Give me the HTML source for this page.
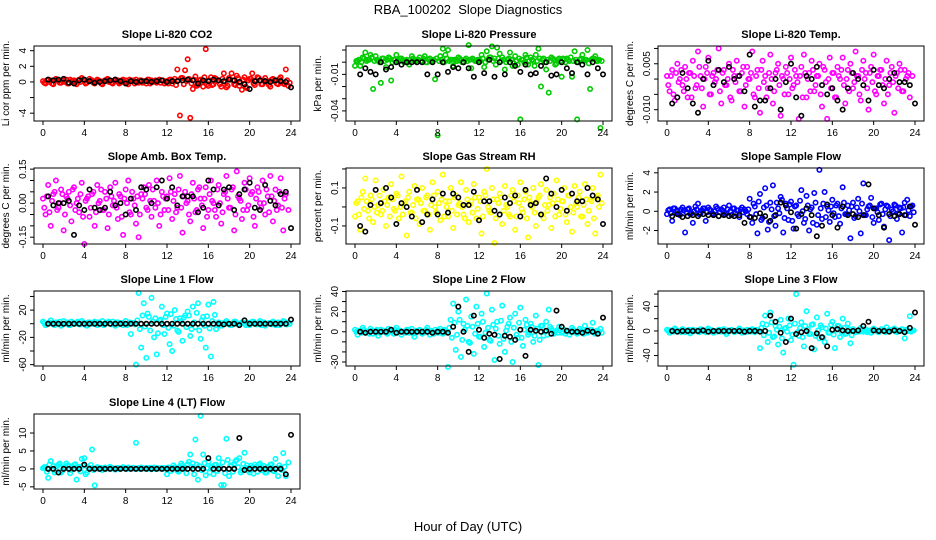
<!DOCTYPE html>
<html><head><meta charset="utf-8"><style>
html,body{margin:0;padding:0;background:#fff;}
svg{display:block;font-family:"Liberation Sans",sans-serif;}
</style></head><body>
<svg id="chart" width="936" height="540" viewBox="0 0 936 540">
<text x="468" y="14" text-anchor="middle" font-size="13" xml:space="preserve">RBA_100202&#160; Slope Diagnostics</text>
<text x="468" y="531" text-anchor="middle" font-size="13">Hour of Day (UTC)</text>
</svg>
<script>
// ---- data (colored points every 0.25 h, second colored set offset 0.125 h, black every 0.5 h) ----
const xTicks = [0,4,8,12,16,20,24];
const co2Colored = [0.1,-0.2,0.3,0.2,-0.3,0.4,0.1,-0.1,0.2,0.3,-0.2,0.1,0.2,-0.3,0.3,0.5,0.2,-0.1,0.4,0.2,-0.2,0.3,0.1,-0.3,0.2,0.4,0.1,-0.2,0.3,0.2,-0.1,0.3,0.2,-0.3,0.1,0.2,0.3,-0.1,0.2,0.1,-0.2,0.3,0.2,0.1,-0.1,0.3,0.2,-0.2,
0.1,0.3,-0.2,0.4,1.6,-4.3,0.5,1.5,2.9,-4.6,-0.9,0.7,-0.4,0.3,-0.6,4.2,-0.5,0.6,-0.3,0.4,0.2,-0.6,1.1,-0.7,0.5,1.1,-0.3,0.8,-0.5,-1.0,0.6,-0.8,0.4,1.1,-0.4,0.6,0.2,-0.3,0.5,0.1,-0.6,0.4,0.2,-0.3,0.6,-0.2,1.6,-0.5];
const co2Colored2 = [-0.1,0.2,0.0,-0.2,0.1,0.3,-0.1,0.2,0.0,-0.2,0.3,0.1,-0.1,0.2,0.0,0.3,-0.2,0.1,0.2,-0.1,0.0,0.2,-0.2,0.1,0.3,0.0,-0.1,0.2,0.1,-0.2,0.2,0.0,-0.1,0.3,0.1,-0.2,0.0,0.2,-0.1,0.1,0.3,-0.2,0.0,0.2,0.1,-0.1,0.2,0.0,
-0.2,0.3,0.1,-0.4,0.2,0.5,-0.3,0.1,0.4,-0.2,0.3,-0.5,0.2,0.0,0.6,-0.3,0.2,-0.4,0.5,0.1,-0.3,0.4,0.0,-0.5,0.3,0.2,-0.4,0.5,-0.1,0.3,-0.6,0.2,0.4,-0.2,0.1,0.5,-0.3,0.2,0.0,-0.4,0.3,0.1,-0.2,0.4,0.0,-0.3,0.2,-0.1];
const co2Black = [0.3,0.2,0.3,0.4,-0.1,-0.2,0.2,0.3,0.1,-0.1,0.0,0.1,0.2,0.3,0.1,-0.2,0.1,0.0,0.1,0.1,0.0,0.1,0.2,0.0,0.1,0.1,0.2,0.3,0.2,-0.2,0.2,0.1,0.3,0.2,0.1,0.3,0.2,0.0,-0.3,-0.9,0.1,0.2,0.1,0.0,0.2,0.1,0.0,-0.7];
const presColored = [-0.003,0.001,-0.003,0.004,0.008,0.002,0.006,-0.022,0.005,0.001,-0.017,0.003,-0.004,0.004,-0.015,0.002,0.006,0.001,0.003,0.0,0.002,-0.002,0.005,0.001,0.002,0.004,0.001,0.005,0.0,0.003,0.001,-0.014,-0.060,0.005,0.011,0.006,0.010,0.002,-0.003,0.001,0.004,0.002,0.000,0.003,0.014,-0.005,0.002,0.001,
0.002,0.006,-0.004,0.009,0.004,0.013,0.003,0.012,0.007,0.004,-0.006,0.002,0.008,-0.003,0.005,-0.002,-0.047,0.002,0.006,-0.002,0.004,0.001,0.006,0.011,-0.020,0.003,-0.006,-0.025,0.004,0.002,-0.001,0.003,-0.012,0.002,0.003,0.001,-0.012,0.009,-0.047,0.002,0.006,0.002,0.010,-0.022,0.003,0.005,0.001,-0.054];
const presColored2 = [0.001,0.002,0.000,0.003,0.001,0.002,0.004,0.001,0.002,0.000,0.003,0.001,0.002,0.003,0.000,0.002,0.001,0.003,0.002,0.001,0.000,0.002,0.003,0.001,0.002,0.001,0.003,0.000,0.002,0.001,0.002,0.003,0.001,0.002,0.000,0.003,0.001,0.002,0.002,0.001,0.003,0.000,0.002,0.001,0.002,0.003,0.001,0.002,
0.001,0.003,0.000,0.002,0.004,0.001,-0.002,0.003,0.001,0.002,0.000,0.003,0.002,-0.001,0.001,0.003,0.002,0.000,0.004,0.001,0.002,-0.003,0.001,0.003,0.002,0.000,0.002,0.001,0.003,-0.002,0.002,0.001,0.003,0.000,0.002,0.004,0.001,0.002,0.000,0.003,0.001,0.002,-0.001,0.002,0.003,0.001,0.002,0.001];
const presBlack = [-0.010,-0.005,-0.008,-0.010,0.0,-0.006,-0.004,0.0,-0.002,0.0,0.0,0.0,0.0,-0.010,0.0,-0.010,0.0,-0.008,-0.004,-0.005,0.0,-0.005,-0.012,0.0,-0.009,0.002,-0.012,0.0,-0.010,0.0,-0.003,-0.008,-0.002,-0.010,-0.009,-0.003,0.0,-0.011,-0.010,0.0,-0.005,-0.009,0.0,-0.002,-0.010,0.0,-0.005,-0.010];
const tempColored = [0.001,-0.004,0.003,-0.007,0.005,0.0,-0.002,0.004,-0.006,0.002,0.006,-0.003,0.009,0.001,-0.009,0.004,0.007,-0.005,0.002,0.0,0.010,-0.008,0.003,-0.002,0.005,-0.007,0.001,0.006,-0.004,0.002,-0.009,0.004,0.0,0.009,-0.006,0.003,-0.011,0.006,0.001,-0.003,0.008,-0.008,0.002,0.005,-0.012,0.0,0.004,-0.005,
0.007,-0.002,0.001,-0.013,0.004,0.008,-0.006,0.002,0.006,-0.004,0.001,0.005,-0.009,0.003,-0.013,0.007,0.002,-0.006,0.004,0.0,0.007,-0.008,0.003,0.005,-0.003,0.009,0.001,-0.007,0.006,0.002,-0.010,0.004,0.008,-0.005,0.001,0.003,-0.008,0.006,-0.002,0.004,-0.011,0.002,0.005,-0.004,0.003,0.001,-0.006,0.001];
const tempColored2 = [-0.002,0.001,-0.005,0.002,-0.001,0.003,-0.004,0.000,0.002,-0.006,0.001,-0.002,0.004,-0.003,0.000,0.002,-0.005,0.001,-0.001,0.003,-0.004,0.002,-0.002,0.000,-0.006,0.003,-0.001,0.001,-0.004,0.004,-0.002,0.000,0.002,-0.005,0.001,-0.003,0.003,-0.001,-0.006,0.002,0.000,-0.004,0.003,-0.002,0.001,-0.005,0.002,0.000,
-0.003,0.003,-0.001,0.001,-0.006,0.002,0.000,-0.004,0.003,-0.002,0.001,-0.005,0.004,-0.001,0.000,-0.003,0.002,-0.006,0.001,0.003,-0.002,0.000,-0.004,0.002,-0.001,0.001,-0.005,0.003,0.000,-0.003,0.002,-0.001,-0.004,0.001,0.003,-0.002,0.000,-0.005,0.002,-0.001,0.001,-0.003,0.003,-0.004,0.000,0.002];
const tempBlack = [-0.008,-0.006,0.002,-0.003,-0.008,-0.011,0.0,0.006,-0.002,0.003,-0.001,0.004,0.000,0.001,-0.004,0.008,-0.009,-0.007,-0.007,-0.003,0.0,-0.010,-0.001,0.005,-0.006,-0.012,0.001,0.0,0.004,-0.002,-0.005,-0.003,-0.007,-0.010,-0.003,0.002,0.0,-0.002,-0.007,0.003,-0.002,-0.003,0.0,0.002,-0.001,-0.001,-0.002,-0.008];
const ambColored = [0.02,-0.05,0.08,-0.10,0.04,0.10,-0.02,0.06,-0.12,0.03,0.05,-0.08,0.07,0.0,-0.04,0.09,-0.18,0.02,-0.06,0.04,-0.10,0.08,0.01,-0.03,0.05,-0.11,0.07,-0.01,0.09,-0.07,0.03,-0.14,0.06,0.10,-0.05,0.02,-0.09,-0.15,0.04,0.07,-0.02,0.08,-0.06,0.01,0.10,-0.10,0.05,-0.03,
0.03,0.11,-0.07,0.04,-0.02,0.12,-0.13,0.05,0.01,-0.08,0.09,-0.04,0.06,0.02,-0.11,0.07,-0.03,0.10,0.0,-0.06,0.08,-0.09,0.04,0.12,-0.02,0.06,-0.12,0.14,0.02,-0.07,0.09,-0.03,0.11,0.05,-0.10,0.07,0.0,0.10,-0.05,0.03,0.12,-0.08,0.06,-0.01,0.11,-0.12,0.04,-0.03];
const ambColored2 = [-0.02,0.03,-0.04,0.01,0.05,-0.03,0.00,0.04,-0.05,0.02,-0.01,0.06,-0.03,0.02,0.04,-0.06,0.01,0.03,-0.02,0.05,-0.04,0.00,0.06,-0.03,0.02,-0.05,0.03,0.01,-0.02,0.04,-0.06,0.02,0.00,-0.04,0.05,-0.01,0.03,-0.05,0.02,0.04,-0.03,0.01,0.06,-0.02,0.00,-0.05,0.03,0.02,
-0.03,0.05,0.01,-0.04,0.06,-0.02,0.03,0.00,-0.05,0.04,0.02,-0.03,0.07,-0.01,0.02,-0.06,0.04,0.01,-0.03,0.06,0.00,-0.04,0.05,0.02,-0.02,0.07,-0.05,0.03,0.01,-0.03,0.06,-0.01,0.04,-0.06,0.02,0.05,-0.02,0.00,0.06,-0.04,0.03,0.01,-0.03,0.05,-0.02,0.02];
const ambBlack = [0.03,-0.01,0.0,0.0,0.01,-0.14,-0.01,-0.03,0.06,-0.02,-0.03,-0.02,0.05,-0.01,0.0,-0.05,0.02,-0.03,0.07,0.06,0.0,0.07,0.10,0.02,0.07,-0.01,0.03,0.03,0.03,-0.04,-0.02,0.10,0.06,-0.01,0.06,0.07,-0.03,0.04,0.06,0.09,-0.02,-0.03,0.08,0.01,-0.01,0.04,0.05,-0.11];
const rhColored = [-0.05,0.03,-0.12,0.08,0.15,-0.02,0.06,-0.08,0.14,0.01,-0.04,0.09,-0.10,0.05,0.12,-0.01,0.07,-0.06,0.16,0.02,-0.15,0.08,-0.03,0.11,0.04,-0.09,0.10,-0.02,0.06,-0.12,0.13,0.0,0.08,-0.07,0.17,0.03,-0.05,0.10,-0.11,0.06,0.01,0.13,-0.04,0.09,-0.08,0.03,0.12,-0.06,
0.05,-0.14,0.08,0.20,-0.02,0.10,-0.19,0.04,0.07,-0.09,0.11,0.0,-0.05,0.09,-0.12,0.06,0.13,-0.03,0.08,-0.16,0.02,0.10,-0.10,0.05,0.12,-0.06,0.09,0.01,-0.11,0.07,0.14,-0.04,0.03,0.10,-0.08,0.06,-0.13,0.11,0.0,0.08,-0.05,0.12,-0.09,0.04,0.10,-0.14,0.06,0.17];
const rhColored2 = [0.02,-0.04,0.05,-0.01,0.03,-0.06,0.04,0.00,-0.03,0.06,-0.02,0.03,0.01,-0.05,0.04,-0.02,0.06,0.00,-0.04,0.03,0.05,-0.03,0.01,-0.06,0.04,0.02,-0.02,0.05,-0.04,0.01,0.06,-0.03,0.02,0.04,-0.05,0.00,0.03,-0.02,0.05,-0.04,0.02,0.00,-0.06,0.04,0.01,-0.03,0.05,-0.01,
0.03,-0.05,0.06,0.00,-0.03,0.04,-0.06,0.02,0.05,-0.02,0.01,-0.04,0.06,0.03,-0.05,0.02,-0.01,0.04,-0.06,0.05,0.00,-0.03,0.03,0.06,-0.04,0.01,-0.02,0.05,0.02,-0.05,0.04,-0.01,0.03,-0.04,0.06,0.00,-0.03,0.02,0.05,-0.05,0.01,0.04,-0.02,0.03,-0.06,0.05,0.00,0.02];
const rhBlack = [-0.10,-0.13,0.01,0.09,0.02,0.10,0.05,-0.09,0.02,0.0,-0.05,0.09,-0.08,-0.04,0.04,-0.04,0.07,-0.03,0.07,0.05,0.01,0.01,0.08,-0.07,0.03,0.03,-0.02,-0.04,0.05,0.02,0.06,-0.05,0.09,0.01,0.02,-0.04,0.15,0.07,0.0,0.09,-0.02,0.07,0.03,0.03,0.10,0.06,0.04,-0.09];
const flowColored = [-0.3,0.2,-1.0,0.3,0.1,-0.4,0.4,-2.2,0.2,-0.3,-1.2,0.5,0.8,-0.2,0.3,-1.0,0.4,0.1,-0.3,0.5,-0.5,0.2,0.4,-0.2,0.6,-0.4,0.3,0.1,-0.6,0.4,0.2,-0.3,
1.3,-1.2,0.5,-2.3,1.8,-0.7,2.4,-1.9,0.9,2.7,-1.5,0.3,1.5,-2.2,0.8,-0.9,1.0,-1.8,0.6,-0.5,2.2,-1.2,1.6,-2.0,0.4,1.9,-1.4,4.3,-0.8,2.0,0.5,-1.1,
1.2,-0.6,0.8,-1.3,2.5,-0.3,0.6,-2.8,0.9,-0.5,1.3,-2.3,2.9,-0.4,0.5,1.4,-1.2,0.3,-0.9,0.8,-1.6,0.6,-3.0,0.2,0.7,-0.8,0.4,-2.2,0.9,1.2,-0.5,0.6];
const flowColored2 = [0.1,-0.2,0.3,0.0,-0.3,0.2,0.1,-0.1,0.3,-0.2,0.0,0.2,-0.3,0.1,0.3,-0.1,0.2,-0.2,0.0,0.3,-0.1,0.1,-0.3,0.2,0.0,0.3,-0.2,0.1,0.2,-0.1,0.0,0.2,
-0.6,0.8,-0.3,1.0,-0.9,0.4,0.6,-1.1,0.2,-0.5,0.9,-0.2,1.2,-0.7,0.3,0.7,-1.0,0.5,-0.3,1.1,0.0,-0.8,0.6,0.2,-1.2,0.9,-0.4,0.3,0.8,-0.6,0.1,0.5,
-0.2,0.6,-0.5,0.3,0.9,-0.3,0.1,0.5,-0.7,0.4,0.0,0.8,-0.4,0.2,0.6,-0.6,0.3,-0.1,0.7,-0.3,0.2,0.5,-0.5,0.0,0.6,-0.2,0.3,0.4,-0.4,0.1,0.5,-0.1];
const flowBlack = [-0.5,-0.3,-0.6,-0.5,-0.4,-0.5,-0.3,-0.4,-0.4,-0.5,-0.4,-0.5,-0.5,-0.4,-1.2,-0.6,-0.7,-0.2,-0.5,-1.0,-0.4,0.9,0.6,-0.1,-1.8,-0.3,0.3,-0.4,-2.6,-1.5,0.7,-0.4,-1.7,0.5,-0.4,-0.3,-0.6,-0.4,2.8,0.3,-0.4,-1.7,-0.3,-0.5,-0.3,-0.4,0.5,-1.4];
const line1Colored = [3,-2,1,5,-1,2,0,-3,4,1,-2,3,0,2,-1,4,1,-3,2,0,3,-2,1,4,-1,2,0,3,-3,2,1,-2,4,0,-15,1,
-60,45,-35,30,-50,10,38,-20,-45,5,25,-15,15,-30,-40,20,-10,8,-25,12,18,-18,25,-5,30,-22,10,-35,28,-48,32,-8,
2,-3,1,4,0,-2,3,1,-1,2,5,0,-2,3,1,-1,4,2,-3,0,1,3,-2,2,0,4,-1,2];
const line1Colored2 = [1,-1,2,0,-2,1,3,-1,0,2,-2,1,0,3,-1,1,-2,2,0,1,-1,2,0,-2,1,3,-1,0,2,-1,1,0,-2,2,1,-1,
5,-8,12,-4,15,-10,3,8,-14,6,-2,10,-6,14,-3,7,-12,4,9,-5,12,-8,2,16,-10,5,-3,11,-7,4,13,-2,
1,-1,2,0,-2,1,3,-1,0,2,-2,1,0,3,-1,1,-2,2,0,1,-1,2,0,-2,1,3,-1,0];
const line1Black = [0,0,0,0,0,0,0,0,0,0,0,0,0,0,0,0,0,0,0,0,0,0,0,0,0,0,0,0,0,0,0,0,0,0,-1,0,0,-2,5,0,0,0,0,0,0,0,0,6];
const line2Colored = [2,-3,1,4,-1,0,3,-2,1,-4,2,0,-1,3,0,-2,4,1,-3,0,2,-1,3,-5,0,2,-2,1,4,-3,0,2,-1,3,-2,1,
-35,12,28,-18,20,-25,8,32,-10,15,-22,25,-5,18,-15,38,-8,22,-28,10,-12,26,-20,5,14,-30,18,-6,24,-14,12,-3,8,-10,16,-33,6,-4,10,22,
3,-2,1,5,-1,2,0,-3,4,1,-2,3,0,6,-1,2,9,-2,1,3];
const line2Colored2 = [0,1,-1,2,0,-2,1,0,2,-1,0,1,-2,1,0,2,-1,1,0,-1,2,0,-2,1,1,0,-1,2,0,1,-2,0,1,-1,2,0,
4,-6,9,-3,12,-8,2,6,-11,5,-2,8,-5,10,-1,4,-9,7,3,-4,11,-7,1,8,-10,4,-3,9,-6,2,7,-1,5,-4,3,-8,6,0,-3,5,
1,0,-1,2,0,-2,1,0,2,-1,0,1,-2,1,0,2,-1,1,0,-1];
const line2Black = [0,-1,0,0,0,0,2,-1,0,0,0,0,0,0,-1,0,0,-1,5,25,0,-20,16,2,-6,-2,-3,-27,-4,-5,-8,2,-24,2,1,0,1,-2,21,5,1,0,0,-1,1,0,-2,14];
const line3Colored = [2,-3,1,4,-1,0,3,-2,1,-4,2,0,-1,3,0,-2,4,1,-3,0,2,-1,3,-5,0,2,-2,1,4,-3,0,2,-1,3,-2,1,
-28,12,25,-18,30,-10,8,-22,18,-35,5,20,-15,-55,60,-8,14,-25,32,-5,10,-30,22,-12,6,-18,28,-3,15,-28,8,-10,20,-5,12,-20,
3,-2,1,5,-1,2,0,-3,4,1,-2,3,0,6,-1,2,4,-2,1,3,-12,2,24,1];
const line3Colored2 = [0,1,-1,2,0,-2,1,0,2,-1,0,1,-2,1,0,2,-1,1,0,-1,2,0,-2,1,1,0,-1,2,0,1,-2,0,1,-1,2,0,
5,-7,10,-3,14,-9,2,7,-12,4,-1,9,-6,12,-2,5,-10,8,3,-5,11,-8,1,9,-11,4,-3,10,-6,2,8,-1,5,-4,3,-7,
1,0,-1,2,0,-2,1,0,2,-1,0,1,-2,1,0,2,-1,1,0,-1,2,0,-1,1];
const line3Black = [0,-1,0,0,0,0,1,-1,0,0,0,0,0,0,-1,0,0,-1,0,25,15,-3,-18,20,-5,-2,0,-28,-4,-10,-25,2,3,1,0,0,1,8,15,1,0,0,-1,1,0,-2,5,30];
const line4Colored = [0.2,0.5,-2.5,2.2,0.8,-0.5,1.2,-1.0,0.4,1.5,0.9,-0.3,1.1,-3.0,0.6,2.8,3.0,-1.0,0.3,5.4,-4.6,0.5,0.2,-0.3,0.4,0.1,0.6,0.2,-0.2,0.3,0.1,0.5,0.2,0.4,0.1,0.3,7.3,0.2,0.4,0.1,0.3,0.2,-0.1,0.4,0.2,0.1,0.3,0.2,
-1.5,0.3,0.2,0.5,-0.5,0.6,1.0,0.4,1.3,4.0,1.5,8.2,-3.0,14.8,4.0,-1.8,2.0,0.5,-1.5,1.2,3.0,-4.5,-4.5,8.4,-2.0,0.8,1.4,2.5,3.0,-0.5,4.5,1.0,-1.0,0.5,1.2,-0.8,1.5,0.3,-1.0,0.6,1.2,-0.5,2.8,-2.0,0.4,4.4,-2.0,1.8];
const line4Colored2 = [0.5,-0.8,1.2,0.0,-1.0,0.8,1.5,-0.5,0.3,1.0,-1.2,0.6,1.3,0.2,-0.7,0.9,-1.5,0.4,1.1,-0.3,0.2,0.0,0.3,0.1,0.0,0.2,0.1,0.0,0.2,0.0,0.1,0.3,0.0,0.1,0.2,0.0,0.1,0.0,0.2,0.1,0.0,0.3,0.1,0.0,0.2,0.1,0.0,0.2,
0.4,-0.6,1.0,0.2,-0.8,1.5,0.3,-1.2,2.0,0.6,-1.5,1.2,0.8,-0.4,1.6,0.2,-1.0,0.7,1.1,-0.6,0.4,1.8,-1.2,2.5,1.0,-0.8,2.2,0.5,-1.0,1.4,0.3,-0.5,0.9,-1.3,0.6,1.2,-0.4,0.8,-1.0,0.5,1.3,-0.7,0.2,1.0,-0.3,0.6];
const line4Black = [0,0,-1,0,0,0,0,1.2,0,0,0,0,0,0,0,0,0,0,0,0,0,0,0,0,0,0,0,0,0,0,0,3,0,0,0,0,0,8.6,-0.3,0,0,0,0,0,0,0,-1.5,9.5];

// tick values per panel
const co2Ticks=[-4,-2,0,2,4], presTicks=[-0.04,-0.03,-0.02,-0.01,0,0.01], tempTicks=[-0.01,-0.005,0,0.005,0.01];
const ambTicks=[-0.15,-0.10,-0.05,0,0.05,0.10,0.15], rhTicks=[-0.1,0,0.1,0.2], flowTicks=[-2,0,2,4];
const l1Ticks=[-60,-40,-20,0,20,40], l2Ticks=[-30,-20,-10,0,10,20,30,40], l3Ticks=[-40,-20,0,20,40,60], l4Ticks=[-5,0,5,10];

// ---- layout (not data) ----
const panels = [
 {name:'co2',title:'Slope Li-820 CO2',ylab:'Li cor ppm per min.',col:0,top:46,bot:121,ymin:-5.0,ymax:4.6,color:'#ff0000',c:co2Colored,c2:co2Colored2,b:co2Black,ticks:co2Ticks,labels:[-4,0,2,4],fmt:v=>String(v)},
 {name:'pressure',title:'Slope Li-820 Pressure',ylab:'kPa per min.',col:1,top:46,bot:121,ymin:-0.0483,ymax:0.0133,color:'#00cc00',c:presColored,c2:presColored2,b:presBlack,ticks:presTicks,labels:[-0.04,-0.01],fmt:v=>v.toFixed(2)},
 {name:'li820-temp',title:'Slope Li-820 Temp.',ylab:'degrees C per min.',col:2,top:46,bot:121,ymin:-0.0137,ymax:0.0108,color:'#ff00ff',c:tempColored,c2:tempColored2,b:tempBlack,ticks:tempTicks,labels:[-0.01,0.005],fmt:v=>v===-0.01?'-0.010':v.toFixed(3)},
 {name:'amb-box-temp',title:'Slope Amb. Box Temp.',ylab:'degrees C per min.',col:0,top:168,bot:244,ymin:-0.18,ymax:0.155,color:'#ff00ff',c:ambColored,c2:ambColored2,b:ambBlack,ticks:ambTicks,labels:[-0.15,0,0.15],fmt:v=>v.toFixed(2)},
 {name:'gas-stream-rh',title:'Slope Gas Stream RH',ylab:'percent per min.',col:1,top:168,bot:244,ymin:-0.195,ymax:0.205,color:'#ffff00',c:rhColored,c2:rhColored2,b:rhBlack,ticks:rhTicks,labels:[-0.1,0.1],fmt:v=>String(v)},
 {name:'sample-flow',title:'Slope Sample Flow',ylab:'ml/min per min.',col:2,top:168,bot:244,ymin:-3.4,ymax:4.5,color:'#0000ff',c:flowColored,c2:flowColored2,b:flowBlack,ticks:flowTicks,labels:[-2,0,2,4],fmt:v=>String(v)},
 {name:'line1-flow',title:'Slope Line 1 Flow',ylab:'ml/min per min.',col:0,top:291,bot:366,ymin:-62,ymax:48,color:'#00ffff',c:line1Colored,c2:line1Colored2,b:line1Black,ticks:l1Ticks,labels:[-60,-20,20],fmt:v=>String(v)},
 {name:'line2-flow',title:'Slope Line 2 Flow',ylab:'ml/min per min.',col:1,top:291,bot:366,ymin:-34,ymax:40.5,color:'#00ffff',c:line2Colored,c2:line2Colored2,b:line2Black,ticks:l2Ticks,labels:[-30,0,20,40],fmt:v=>String(v)},
 {name:'line3-flow',title:'Slope Line 3 Flow',ylab:'ml/min per min.',col:2,top:291,bot:366,ymin:-57,ymax:65,color:'#00ffff',c:line3Colored,c2:line3Colored2,b:line3Black,ticks:l3Ticks,labels:[-40,0,40],fmt:v=>String(v)},
 {name:'line4-flow',title:'Slope Line 4 (LT) Flow',ylab:'ml/min per min.',col:0,top:414,bot:489,ymin:-5.6,ymax:15.3,color:'#00ffff',c:line4Colored,c2:line4Colored2,b:line4Black,ticks:l4Ticks,labels:[-5,0,5,10],fmt:v=>String(v)}
];
const NS='http://www.w3.org/2000/svg';
const svg=document.getElementById('chart');
function mk(tag,attrs,parent){const e=document.createElementNS(NS,tag);for(const k in attrs)e.setAttribute(k,attrs[k]);(parent||svg).appendChild(e);return e;}
panels.forEach(p=>{
  const x0=43+p.col*312, x1=x0+248;
  const left=x0-9, right=x1+9;
  const xs=h=>x0+(h/24)*(x1-x0);
  const ys=v=>p.bot-(v-p.ymin)/(p.ymax-p.ymin)*(p.bot-p.top);
  const g=mk('g',{});
  
  
  const t=mk('text',{x:(left+right)/2,y:p.top-8,'text-anchor':'middle','font-size':11,'font-weight':'bold'},g);
  t.textContent=p.title;
  
  
  const yl=mk('text',{transform:`translate(${left-25},${(p.top+p.bot)/2}) rotate(-90)`,'text-anchor':'middle','font-size':10},g);
  yl.textContent=p.ylab;
  
  
  const pg=mk('g',{fill:'none','stroke-width':1.6},g);
  
  
  p.c.forEach((v,i)=>{
    const c=mk('circle',{cx:xs(i*0.25),cy:ys(v),r:2.2,stroke:p.color},pg);
    
    
  });
  p.c2.forEach((v,i)=>{
    const c=mk('circle',{cx:xs(i*0.25+0.125),cy:ys(v),r:2.2,stroke:p.color},pg);
    
    
  });
  p.b.forEach((v,i)=>{
    const c=mk('circle',{cx:xs((i+1)*0.5),cy:ys(v),r:2.2,stroke:'#000'},pg);
    
    
  });
  const box=mk('rect',{x:left,y:p.top,width:right-left,height:p.bot-p.top,fill:'none',stroke:'#000','stroke-width':1},g);
  
  
  xTicks.forEach(h=>{
    mk('line',{x1:xs(h),x2:xs(h),y1:p.bot,y2:p.bot+4,stroke:'#000'},g);
    const tl=mk('text',{x:xs(h),y:p.bot+15,'text-anchor':'middle','font-size':10},g);
    tl.textContent=h;
    
    
  });
  p.ticks.forEach(v=>{
    const y=ys(v); if(y<p.top-1||y>p.bot+1)return;
    mk('line',{x1:left-4,x2:left,y1:y,y2:y,stroke:'#000'},g);
  });
  p.labels.forEach(v=>{
    const tl=mk('text',{transform:`translate(${left-8},${ys(v)}) rotate(-90)`,'text-anchor':'middle','font-size':10},g);
    tl.textContent=p.fmt(v);
    
    
  });
});
</script>
</body></html>
